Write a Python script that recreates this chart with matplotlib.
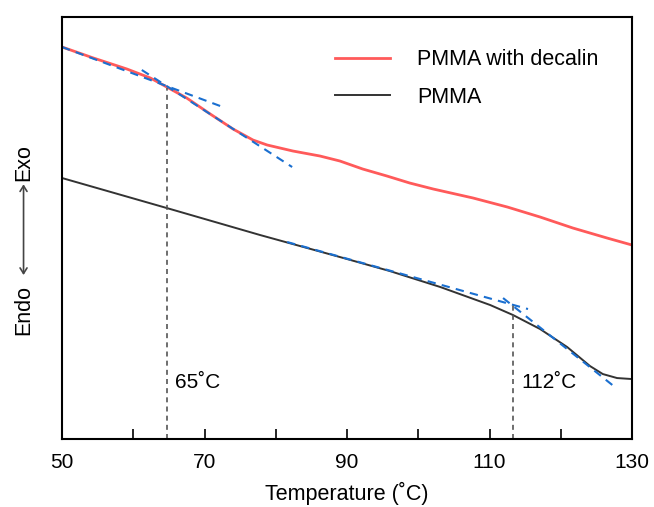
import numpy as np
import matplotlib.pyplot as plt

plt.rcParams['font.family'] = ['Liberation Sans', 'DejaVu Sans']

# DSC traces (arbitrary heat-flow units)
temp_decalin = [50, 54.4, 59.1, 62.4, 64.7, 67.5, 70.8, 74.0, 76.8, 78.8, 82.4, 86.2, 89.0,
                92.2, 95.6, 98.8, 102.1, 107.7, 112.5, 117.1, 121.7, 126.5, 130]
flow_decalin = [392, 381, 370, 361, 352, 341, 325, 310, 299, 294, 288, 283, 278,
                270, 263, 256, 250, 241, 232, 222, 211, 201, 194]

temp_pmma = [50, 64.7, 77.8, 89.0, 96.0, 103.1, 110.1, 113.3, 117.1, 120.9, 124.1, 125.9, 127.9, 130]
flow_pmma = [261, 231, 204, 182, 168, 152, 134, 124, 110, 92, 73, 65, 61, 60]

# tangent lines (start/end points)
tan_decalin_1 = ([50, 72.2], [392, 333])
tan_decalin_2 = ([61.2, 82.3], [369, 272])
tan_pmma_1 = ([81.6, 115.4], [197, 130])
tan_pmma_2 = ([111.9, 127.6], [141, 52])

onsets = [64.7, 113.3]
onset_levels = [351, 134]
onset_labels = ['65˚C', '112˚C']
label_x = [65.8, 114.5]

fig = plt.figure(figsize=(6.54, 5.07), dpi=100)
ax = fig.add_axes([0.0948, 0.134, 0.8716, 0.8325])

ax.plot(temp_decalin, flow_decalin, color='#ff5a5a', lw=2.0, label='PMMA with decalin')
ax.plot(temp_pmma, flow_pmma, color='#333333', lw=1.4, label='PMMA')

for t in [tan_decalin_1, tan_decalin_2, tan_pmma_1, tan_pmma_2]:
    ax.plot(t[0], t[1], color='#1a6fd0', lw=1.5, ls=(0, (4, 3)))

for x, lvl, lx, lab in zip(onsets, onset_levels, label_x, onset_labels):
    ax.plot([x, x], [0, lvl], color='#555555', lw=1.2, ls=(0, (3, 2.5)))
    ax.text(lx, 57, lab, fontsize=15, ha='left', va='center')

ax.set_xlim(50, 130)
ax.set_ylim(0, 422)
ax.set_xticks(np.arange(50, 131, 10))
ax.set_xticklabels(['50', '', '70', '', '90', '', '110', '', '130'])
ax.tick_params(axis='x', direction='in', length=7, width=1.2, labelsize=15, pad=10)
ax.set_yticks([])
for s in ax.spines.values():
    s.set_linewidth(1.5)

ax.set_xlabel('Temperature (˚C)', fontsize=15.5, labelpad=7)

# Endo <-> Exo label
fig.text(0.036, 0.389, 'Endo', rotation=90, fontsize=15.5, ha='center', va='center')
fig.text(0.036, 0.680, 'Exo', rotation=90, fontsize=15.5, ha='center', va='center')
fig.add_artist(plt.matplotlib.patches.FancyArrowPatch(
    (0.036, 0.452), (0.036, 0.642), transform=fig.transFigure,
    arrowstyle='<->,head_length=4,head_width=2.5', color='#444444', lw=1.2))

ax.legend(loc='upper left', frameon=False, fontsize=15.5, handlelength=2.56,
          handletextpad=1.25, labelspacing=0.75, borderpad=0, borderaxespad=0,
          bbox_to_anchor=(0.479, 0.923))

fig.savefig('out.png', dpi=100)
